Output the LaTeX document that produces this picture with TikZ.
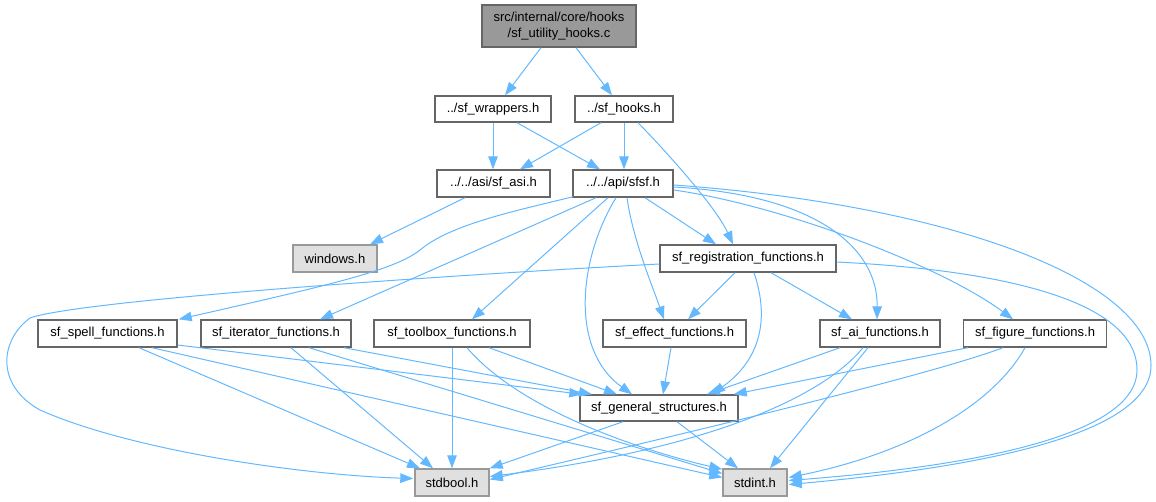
\documentclass[tikz,border=0pt]{standalone}
\usepackage{fontspec}
\setmainfont{Liberation Sans}
\usetikzlibrary{arrows.meta,calc}
\definecolor{edgeblue}{HTML}{63B8FF}
\definecolor{nodeborder}{HTML}{666666}
\definecolor{sysborder}{HTML}{999999}
\definecolor{sysfill}{HTML}{E0E0E0}
\definecolor{topfill}{HTML}{999999}
\begin{document}
\begin{tikzpicture}[x=1pt,y=-1pt,
  filebox/.style={draw=nodeborder, fill=white, line width=1.4pt, inner sep=0pt,
    minimum height=27pt, font=\fontsize{13}{16}\selectfont},
  sysbox/.style={filebox, draw=sysborder, fill=sysfill},
  rootbox/.style={filebox, fill=topfill, align=center},
  dep/.style={draw=edgeblue, line width=1pt, -{Triangle[length=13pt,width=9.5pt]}}]
\useasboundingbox (0,0) rectangle (1156,501);

% nodes
\node[rootbox, minimum width=154pt, minimum height=42pt] (top) at (559,26) {src/internal/core/hooks\\/sf\_utility\_hooks.c};
\node[filebox, minimum width=116pt, minimum height=26pt] (wrap) at (493,109) {../sf\_wrappers.h};
\node[filebox, minimum width=98pt, minimum height=26pt] (hooks) at (624,109) {../sf\_hooks.h};
\node[filebox, minimum width=113pt] (asi) at (493.5,183.5) {../../asi/sf\_asi.h};
\node[filebox, minimum width=100pt] (sfsf) at (623,183.5) {../../api/sfsf.h};
\node[sysbox, minimum width=84pt] (win) at (335,258.5) {windows.h};
\node[filebox, minimum width=176pt] (reg) at (748,258.5) {sf\_registration\_functions.h};
\node[filebox, minimum width=139pt] (spell) at (107.5,333.5) {sf\_spell\_functions.h};
\node[filebox, minimum width=150pt] (iter) at (276,333.5) {sf\_iterator\_functions.h};
\node[filebox, minimum width=156pt] (tool) at (452,333.5) {sf\_toolbox\_functions.h};
\node[filebox, minimum width=143pt] (effect) at (674.5,333.5) {sf\_effect\_functions.h};
\node[filebox, minimum width=120pt] (ai) at (880,333.5) {sf\_ai\_functions.h};
\node[filebox, minimum width=143pt] (fig) at (1035,333.5) {sf\_figure\_functions.h};
\node[filebox, minimum width=158pt, minimum height=26pt] (gen) at (659,408) {sf\_general\_structures.h};
\node[sysbox, minimum width=74pt] (bool) at (452,482.5) {stdbool.h};
\node[sysbox, minimum width=64pt] (int) at (755,482.5) {stdint.h};

% edges
\draw[dep] ($(top.south)+(-18,0)$) -- ($(wrap.north)+(12,0)$);
\draw[dep] ($(top.south)+(17,0)$) -- ($(hooks.north)+(-12,0)$);
\draw[dep] (wrap.south) -- (wrap.south |- asi.north);
\draw[dep] ($(wrap.south)+(24,0)$) -- ($(sfsf.north)+(-23,0)$);
\draw[dep] ($(hooks.south)+(-23,0)$) -- ($(asi.north)+(26.5,0)$);
\draw[dep] (hooks.south) -- (hooks.south |- sfsf.north);
\draw[dep] ($(hooks.south)+(14,0)$) .. controls (660,145) and (715,205) .. ($(reg.north)+(-15,0)$);
\draw[dep] ($(asi.south)+(-28.5,0)$) -- ($(win.north)+(35,0)$);

% from sfsf
\draw[dep] ($(sfsf.south west)+(1,-1)$) .. controls (510,212) and (450,225) .. (420,250)
   .. controls (395,270) and (330,285) .. ($(spell.north east)+(1,0)$);
\draw[dep] ($(sfsf.south)+(-27,0)$) -- ($(iter.north)+(44,0)$);
\draw[dep] ($(sfsf.south)+(-15,0)$) -- ($(tool.north)+(20,0)$);
\draw[dep] ($(sfsf.south)+(-7,0)$) .. controls (578,260) and (570,350) .. ($(gen.north)+(-27,0)$);
\draw[dep] ($(sfsf.south)+(4,0)$) .. controls (633,240) and (652,285) .. ($(effect.north)+(-10.5,0)$);
\draw[dep] ($(sfsf.south)+(22,0)$) -- ($(reg.north)+(-32,0)$);
\draw[dep] ($(sfsf.east)+(0,3.5)$) .. controls (820,195) and (878,250) .. ($(ai.north)+(-3,0)$);
\draw[dep] ($(sfsf.east)+(0,6.5)$) .. controls (780,205) and (940,265) .. ($(fig.north)+(-22,0)$);
\draw[dep] ($(sfsf.east)+(0,1.5)$) .. controls (950,205) and (1150,280) .. (1151,365)
   .. controls (1152,440) and (950,470) .. ($(int.east)+(1,2)$);

% from registration
\draw[dep] ($(reg.east)+(0,3.5)$) .. controls (1000,270) and (1137,300) .. (1137,370)
   .. controls (1137,440) and (950,468) .. ($(int.east)+(1,-2)$);
\draw[dep] ($(reg.west)+(0,5.5)$) .. controls (450,275) and (80,300) .. (30,318)
   .. controls (0,340) and (-5,385) .. (40,410)
   .. controls (130,450) and (300,475) .. ($(bool.west)+(-1,-4)$);
\draw[dep] ($(reg.south)+(-13,0)$) -- ($(effect.north)+(13.5,0)$);
\draw[dep] ($(reg.south)+(6,0)$) .. controls (770,320) and (760,360) .. ($(gen.north)+(53,0)$);
\draw[dep] ($(reg.south)+(23,0)$) -- ($(ai.north)+(-28,0)$);

% from spell
\draw[dep] ($(spell.east)+(0,11.5)$) -- ($(gen.north west)+(3,0)$);
\draw[dep] ($(spell.south)+(31.5,0)$) -- ($(bool.north)+(-32,0)$);
\draw[dep] ($(spell.south)+(44.5,0)$) -- ($(int.west)+(0,-5)$);

% from iterator
\draw[dep] ($(iter.south)+(68,0)$) -- ($(gen.north)+(-67,0)$);
\draw[dep] ($(iter.south)+(15,0)$) -- ($(bool.north)+(-19,0)$);
\draw[dep] ($(iter.south)+(33,0)$) -- ($(int.west)+(0,-9)$);

% from toolbox
\draw[dep] (tool.south) -- (bool.north);
\draw[dep] ($(tool.south)+(37,0)$) -- ($(gen.north)+(-42,0)$);
\draw[dep] ($(tool.south)+(15,0)$) .. controls (520,410) and (640,450) .. ($(int.north west)+(0,1)$);

% from effect
\draw[dep] ($(effect.south)+(-3.5,0)$) -- ($(gen.north)+(4,0)$);

% from ai
\draw[dep] ($(ai.south)+(-40,0)$) -- ($(gen.north)+(48,0)$);
\draw[dep] ($(ai.south)+(-17,0)$) .. controls (820,400) and (700,450) .. ($(bool.east)+(0,-6)$);
\draw[dep] ($(ai.south)+(-12,0)$) -- ($(int.north)+(15,0)$);

% from figure
\draw[dep] ($(fig.south)+(-67,0)$) -- ($(gen.north east)+(-5,0)$);
\draw[dep] ($(fig.south)+(-32,0)$) .. controls (930,375) and (700,430) .. ($(bool.east)+(0,-3)$);
\draw[dep] ($(fig.south)+(-10,0)$) .. controls (990,410) and (900,455) .. ($(int.east)+(1,-5)$);

% from general structures
\draw[dep] ($(gen.south)+(-36,0)$) -- (bool.north east);
\draw[dep] ($(gen.south)+(18,0)$) -- ($(int.north)+(-17,0)$);
\end{tikzpicture}
\end{document}
